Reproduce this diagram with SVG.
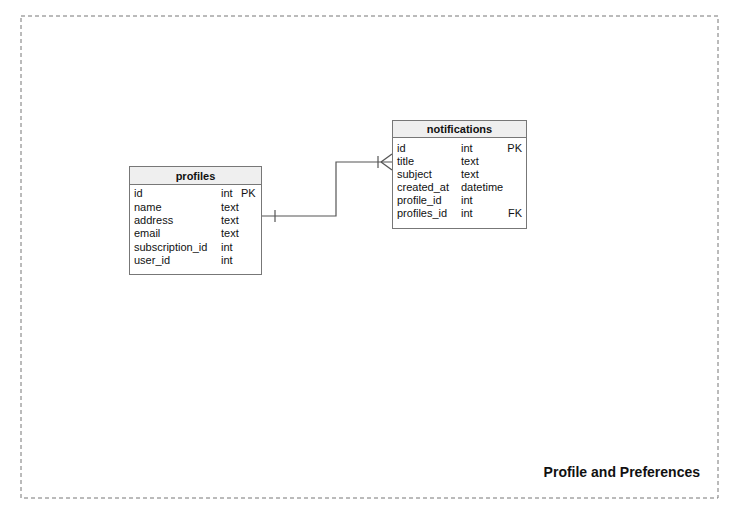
<svg xmlns="http://www.w3.org/2000/svg" width="756" height="517" viewBox="0 0 756 517">
<style>
.t{font-family:"Liberation Sans",Arial,sans-serif;font-size:11px;fill:#111}
.h{font-family:"Liberation Sans",Arial,sans-serif;font-size:11px;font-weight:bold;fill:#111}
.box{fill:#fff;stroke:#777;stroke-width:1}
.hd{fill:#efefef;stroke:#777;stroke-width:1}
.ln{fill:none;stroke:#555;stroke-width:1.2}
</style>
<rect width="756" height="517" fill="#fff"/>
<g id="frame">
<rect x="21" y="16" width="697" height="482" fill="none" stroke="#777" stroke-width="1" stroke-dasharray="4,3"/>
<text x="700" y="477" text-anchor="end" font-family="Liberation Sans,Arial,sans-serif" font-size="14" font-weight="bold" fill="#111">Profile and Preferences</text>
</g>
<g id="connectors">
<polyline class="ln" points="262,216 336,216 336,162 392,162"/>
<line class="ln" x1="275" y1="210" x2="275" y2="222"/>
<line class="ln" x1="378" y1="156" x2="378" y2="168"/>
<line class="ln" x1="381" y1="162" x2="392" y2="154"/>
<line class="ln" x1="381" y1="162" x2="392" y2="170"/>
</g>
<g id="profiles">
<rect class="box" x="129.5" y="166.5" width="132" height="108"/>
<rect class="hd" x="129.5" y="166.5" width="132" height="18"/>
<text class="h" x="195.5" y="179.5" text-anchor="middle">profiles</text>
<text class="t" x="134" y="197">id</text><text class="t" x="221" y="197">int</text><text class="t" x="241" y="197">PK</text>
<text class="t" x="134" y="210.5">name</text><text class="t" x="221" y="210.5">text</text>
<text class="t" x="134" y="224">address</text><text class="t" x="221" y="224">text</text>
<text class="t" x="134" y="237">email</text><text class="t" x="221" y="237">text</text>
<text class="t" x="134" y="250.5">subscription_id</text><text class="t" x="221" y="250.5">int</text>
<text class="t" x="134" y="264">user_id</text><text class="t" x="221" y="264">int</text>
</g>
<g id="notifications">
<rect class="box" x="392.5" y="120.5" width="134" height="108"/>
<rect class="hd" x="392.5" y="120.5" width="134" height="17"/>
<text class="h" x="459.5" y="133" text-anchor="middle">notifications</text>
<text class="t" x="397" y="152">id</text><text class="t" x="461" y="152">int</text><text class="t" x="522" y="152" text-anchor="end">PK</text>
<text class="t" x="397" y="165">title</text><text class="t" x="461" y="165">text</text>
<text class="t" x="397" y="177.5">subject</text><text class="t" x="461" y="177.5">text</text>
<text class="t" x="397" y="190.5">created_at</text><text class="t" x="461" y="190.5">datetime</text>
<text class="t" x="397" y="203.5">profile_id</text><text class="t" x="461" y="203.5">int</text>
<text class="t" x="397" y="217">profiles_id</text><text class="t" x="461" y="217">int</text><text class="t" x="522" y="217" text-anchor="end">FK</text>
</g>
</svg>
